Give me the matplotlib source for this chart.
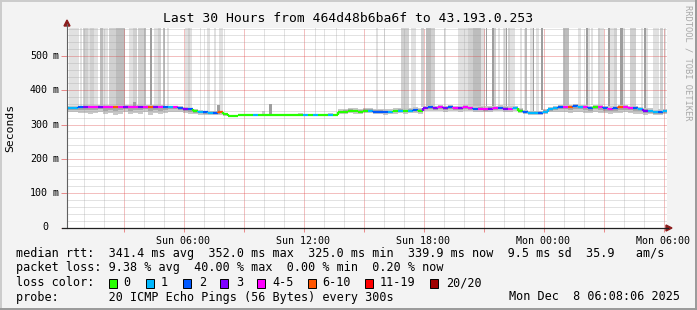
import numpy as np
import matplotlib
matplotlib.use("Agg")
import matplotlib.pyplot as plt
import matplotlib.transforms as mtransforms
from matplotlib.lines import Line2D
from matplotlib.patches import Rectangle, Polygon

# ---------------- data ----------------
title = "Last 30 Hours from 464d48b6ba6f to 43.193.0.253"
x_tick_hours = [6, 12, 18, 24, 30]
x_tick_labels = ["Sun 06:00", "Sun 12:00", "Sun 18:00", "Mon 00:00", "Mon 06:00"]
y_tick_values = [0, 100, 200, 300, 400, 500]
y_tick_numbers = ["0", "100", "200", "300", "400", "500"]
y_tick_units = ["", "m", "m", "m", "m", "m"]

start_hour = 0.2     # Sun 00:12
step_hours = 0.25    # one sample per 15 minutes

median_ms = [349, 349, 350, 351, 352, 352, 352, 352, 352, 352, 352, 352, 352, 352, 352, 352, 352, 351, 352, 351, 350, 351,
             349, 346, 344, 340, 338, 336, 333, 333, 337, 330,
             325, 325, 327, 327, 327, 327, 327, 327, 327, 327, 327, 327, 327, 327, 327, 327, 327, 327, 327, 327, 327, 327,
             336, 338, 340, 340, 338, 340, 340, 338, 338, 336, 336, 339, 340, 339, 340, 343, 340,
             349, 350, 348, 350, 348, 350, 348, 348, 350, 348, 346, 346, 346, 346, 348, 348, 346, 346, 348,
             340, 336, 333, 333, 334, 338, 345, 349, 351, 352, 351, 353, 352, 350, 349, 352, 350, 349, 346, 348,
             350, 350, 349, 348, 346, 341, 340, 336, 337, 340]

loss_code = [1, 1, 2, 3, 4, 4, 3, 4, 4, 5, 4, 3, 4, 4, 3, 4, 5, 3, 4, 2, 1, 4,
             2, 3, 2, 0, 1, 2, 1, 2, 5, 0,
             0, 0, 0, 0, 0, 1, 0, 0, 0, 0, 0, 0, 0, 0, 0, 1, 0, 1, 0, 0, 1, 0,
             0, 0, 0, 0, 0, 0, 1, 2, 2, 2, 1, 0, 1, 0, 1, 2, 0,
             3, 2, 3, 4, 3, 2, 4, 3, 4, 4, 2, 4, 4, 3, 4, 2, 3, 4, 1,
             0, 2, 1, 1, 2, 1, 1, 1, 2, 4, 5, 2, 1, 4, 2, 0, 4, 2, 4, 2,
             5, 4, 4, 2, 1, 3, 1, 1, 2, 1]

smoke_lo_ms = [338, 336, 333, 335, 331, 334, 337, 330, 333, 329, 332, 336, 330, 334, 331, 336, 328, 333, 330, 335, 338, 337,
               338, 334, 332, 330, 329, 328, 327, 327, 328, 326,
               324, 324, 326, 326, 326, 326, 326, 326, 326, 326, 326, 326, 326, 326, 326, 326, 326, 326, 326, 326, 326, 326,
               330, 331, 333, 332, 330, 333, 334, 331, 330, 329, 330, 332, 333, 332, 333, 335, 332,
               340, 341, 339, 340, 338, 341, 339, 338, 340, 339, 337, 338, 336, 338, 339, 340, 337, 338, 340,
               334, 330, 328, 328, 329, 331, 336, 338, 337, 336, 334, 338, 337, 335, 333, 337, 334, 333, 331, 333,
               335, 336, 334, 332, 331, 329, 330, 328, 327, 330]

smoke_hi_ms = [354, 354, 355, 356, 356, 357, 356, 356, 357, 356, 356, 357, 356, 356, 356, 357, 357, 356, 357, 355, 355, 355,
               353, 351, 349, 345, 343, 341, 339, 339, 341, 335,
               326, 326, 328, 328, 328, 328, 328, 328, 328, 328, 328, 328, 328, 328, 333, 328, 328, 328, 328, 328, 333, 328,
               344, 346, 348, 347, 346, 349, 348, 346, 345, 344, 345, 347, 348, 347, 349, 350, 348,
               355, 356, 354, 356, 354, 356, 355, 354, 356, 355, 353, 354, 353, 354, 355, 356, 354, 353, 355,
               348, 342, 339, 339, 340, 346, 351, 354, 356, 358, 357, 359, 357, 356, 355, 358, 357, 355, 353, 354,
               356, 357, 355, 354, 352, 348, 347, 343, 344, 346]

# single slow ping rounds (hour, top of the spike in ms, shade)
short_spike_h = [3.5, 7.7, 9.95, 10.3]
short_spike_top_ms = [366, 358, 340, 360]
short_spike_level = [4, 4, 2, 4]

# periods where part of the pings went far above the graph (hours after Sun 00:00)
spike_start_h = [0.25, 0.80, 0.95, 1.20, 1.30, 1.50, 1.80, 1.95, 2.25, 2.60, 3.25, 3.45, 3.70, 4.00, 4.30, 4.50,
                 4.70, 4.95, 5.15, 6.05, 6.20, 6.30, 6.80, 7.15, 7.50, 7.75, 9.55, 12.55, 13.60,
                 15.60, 16.00, 16.85, 17.35, 17.85, 18.10, 18.35, 19.00, 19.70, 20.20, 20.45, 20.85, 21.10,
                 21.40, 21.50, 21.70, 21.95, 22.10, 22.20, 22.30, 22.80, 23.05, 23.30, 23.45, 23.60, 23.85,
                 24.95, 25.70, 26.10, 26.20, 26.35, 26.70, 26.80, 27.20, 27.30, 27.50, 27.80, 27.95, 28.30,
                 28.85, 29.00, 29.10, 29.45, 29.80, 30.00]
spike_end_h = [0.75, 0.90, 1.20, 1.30, 1.50, 1.70, 1.95, 2.20, 2.60, 3.05, 3.45, 3.65, 4.00, 4.10, 4.40, 4.70,
               4.85, 5.05, 5.25, 6.20, 6.30, 6.40, 6.85, 7.30, 7.60, 7.95, 9.60, 12.60, 13.65,
               15.70, 16.05, 17.25, 17.60, 18.00, 18.35, 18.55, 19.10, 20.20, 20.45, 20.85, 21.05, 21.20,
               21.50, 21.60, 21.80, 22.10, 22.20, 22.30, 22.55, 22.90, 23.15, 23.45, 23.50, 23.75, 23.95,
               25.25, 25.85, 26.20, 26.30, 26.45, 26.80, 27.00, 27.30, 27.50, 27.65, 27.95, 28.05, 28.60,
               28.95, 29.10, 29.20, 29.75, 29.95, 30.10]
spike_level = [1, 1, 2, 1, 2, 1, 3, 1, 2, 3, 1, 2, 2, 3, 4, 1,
               2, 3, 1, 1, 2, 1, 1, 1, 1, 1, 1, 1, 1,
               1, 1, 2, 1, 2, 3, 2, 1, 1, 2, 3, 1, 4,
               4, 2, 1, 1, 4, 2, 1, 1, 3, 1, 4, 1, 4,
               3, 1, 4, 1, 1, 2, 1, 4, 1, 2, 4, 1, 2,
               1, 4, 1, 1, 2, 1]

loss_labels = ["0", "1", "2", "3", "4-5", "6-10", "11-19", "20/20"]
loss_colors = ["#26ff00", "#00b8ff", "#0059ff", "#7e00ff", "#ff00ff", "#ff5500", "#ff0000", "#a00000"]

rtt_avg, rtt_max, rtt_min, rtt_now, rtt_sd, rtt_ams = 341.4, 352.0, 325.0, 339.9, 9.5, 35.9
loss_avg, loss_max, loss_min, loss_now = 9.38, 40.00, 0.00, 0.20
probe_text = "20 ICMP Echo Pings (56 Bytes) every 300s"
stamp_text = "Mon Dec  8 06:08:06 2025"

# ---------------- drawing ----------------
MONO = "DejaVu Sans Mono"
plt.rcParams["font.family"] = [MONO, "DejaVu Sans"]

W, H = 697, 310
YTOP = 583
def fx(x):
    return x / W
def fy(y):
    return 1 - y / H

fig = plt.figure(figsize=(W / 100, H / 100), dpi=100, facecolor="#f3f3f3")
ax = fig.add_axes([fx(67), 82 / H, 600 / W, 200 / H])
ax.set_facecolor("white")
# half-pixel offsets so the 1px grid lines fall on pixel centres
xpx = 30 / 600
ypx = YTOP / 200
ax.set_xlim(start_hour - 0.5 * xpx, start_hour + 30 - 0.5 * xpx)
ax.set_ylim(-0.5 * ypx, YTOP - 0.5 * ypx)
for s in ax.spines.values():
    s.set_visible(False)

med = np.array(median_ms, dtype=float)
lo = np.array(smoke_lo_ms, dtype=float)
hi = np.array(smoke_hi_ms, dtype=float)
t0 = start_hour + step_hours * np.arange(len(med))
tmid = t0 + step_hours / 2

# tall smoke bars
shade = {1: "#e1e1e1", 2: "#d0d0d0", 3: "#bdbdbd", 4: "#9e9e9e"}
for s, e, l in zip(spike_start_h, spike_end_h, spike_level):
    b = np.interp((s + e) / 2, tmid, hi)
    ax.bar(s, YTOP - b, width=e - s, bottom=b, align="edge", color=shade[l],
           linewidth=0, zorder=1, antialiased=False)

# smoke around the median
ax.bar(t0, hi - lo, width=step_hours, bottom=lo, align="edge", color="#c8c8c8",
       linewidth=0, zorder=1.5, antialiased=False)
ilo = (lo + med) / 2
ihi = (med + hi) / 2
ax.bar(t0, ihi - ilo, width=step_hours, bottom=ilo, align="edge", color="#a6a6a6",
       linewidth=0, zorder=1.6, antialiased=False)

# single slow rounds
for h, top, l in zip(short_spike_h, short_spike_top_ms, short_spike_level):
    ax.vlines(h, np.interp(h, tmid, med), top, colors=shade[l], linewidth=0.9,
              zorder=1.7, antialiased=False)

# grid
major_x = np.arange(3, 31, 3)
minor_x = [h for h in range(1, 31) if h % 3]
lab_map = dict(zip(x_tick_hours, x_tick_labels))
ax.set_xticks(major_x)
ax.set_xticklabels([lab_map.get(int(h), "") for h in major_x])
ax.set_xticks(minor_x, minor=True)
ax.set_yticks(y_tick_values)
ax.set_yticklabels([])
ax.set_yticks([v for v in range(20, YTOP, 20) if v % 100], minor=True)
ax.set_axisbelow(False)
ax.grid(which="major", color="#dc3c3c", alpha=0.65, linewidth=0.72, linestyle=(0, (1, 1)))
ax.grid(which="minor", color="#a0a0a0", alpha=0.6, linewidth=0.72, linestyle=(0, (1, 1)))
ax.tick_params(axis="x", which="major", length=3, width=0.72, color="#e88a8a",
               pad=3, labelsize=7.2)
ax.tick_params(axis="x", which="minor", length=0)
ax.tick_params(axis="y", which="major", length=4, width=0.72, color="#e88a8a")
ax.tick_params(axis="y", which="minor", length=0)

# median line coloured by loss
cols = [loss_colors[c] for c in loss_code]
ax.hlines(med, t0, t0 + step_hours, colors=cols, linewidth=1.6, zorder=4)
ax.vlines(t0[1:], np.minimum(med[:-1], med[1:]), np.maximum(med[:-1], med[1:]),
          colors=cols[1:], linewidth=1.6, zorder=4)

# y tick labels (number + unit)
ty = mtransforms.blended_transform_factory(fig.transFigure, ax.transData)
for v, num, unit in zip(y_tick_values, y_tick_numbers, y_tick_units):
    ax.text(fx(48), v, num, transform=ty, ha="right", va="center", fontsize=7.2)
    if unit:
        ax.text(fx(53), v, unit, transform=ty, ha="left", va="center", fontsize=7.2)

# axes lines and arrows
fig.add_artist(Line2D([fx(67), fx(67)], [fy(228), fy(24)], color="#606060", linewidth=0.8))
fig.add_artist(Line2D([fx(62), fx(668)], [fy(228), fy(228)], color="#202020", linewidth=0.9))
fig.add_artist(Polygon([(fx(64), fy(26)), (fx(70), fy(26)), (fx(67), fy(20))],
                       closed=True, color="#8b1c1c", transform=fig.transFigure))
fig.add_artist(Polygon([(fx(666), fy(225)), (fx(666), fy(231)), (fx(672), fy(228))],
                       closed=True, color="#8b1c1c", transform=fig.transFigure))

# titles
fig.text(fx(348), fy(19), title, ha="center", va="center", fontsize=9.4)
fig.text(fx(10), fy(128), "Seconds", rotation=90, ha="center", va="center", fontsize=8.2)
fig.text(fx(688), fy(5), "RRDTOOL / TOBI OETIKER", rotation=270, ha="center", va="top",
         fontsize=6.3, color="#a8a8a8")

# legend
FS = 8.5
line1 = (f"median rtt:  {rtt_avg:.1f} ms avg  {rtt_max:.1f} ms max  {rtt_min:.1f} ms min  "
         f"{rtt_now:.1f} ms now  {rtt_sd:.1f} ms sd  {rtt_ams:.1f}   am/s")
line2 = (f"packet loss: {loss_avg:.2f} % avg  {loss_max:.2f} % max  {loss_min:.2f} % min  "
         f"{loss_now:.2f} % now")
fig.text(fx(16), fy(254), line1, ha="left", va="center", fontsize=FS)
fig.text(fx(16), fy(268), line2, ha="left", va="center", fontsize=FS)
fig.text(fx(16), fy(283), "loss color:", ha="left", va="center", fontsize=FS)
box_x = [109, 146, 183, 220, 257, 308, 365, 430]
lab_x = [123, 161, 199, 236, 272, 322, 380, 446]
for bx, lx, lab, col in zip(box_x, lab_x, loss_labels, loss_colors):
    fig.add_artist(Rectangle((fx(bx), fy(287.5)), 8 / W, 9 / H, transform=fig.transFigure,
                             facecolor=col, edgecolor="black", linewidth=0.7))
    fig.text(fx(lx), fy(283), lab, ha="left", va="center", fontsize=FS)
fig.text(fx(16), fy(297), "probe:       " + probe_text, ha="left", va="center", fontsize=FS)
fig.text(fx(680), fy(297), stamp_text, ha="right", va="center", fontsize=FS)

# image border
fig.add_artist(Line2D([0, 1], [fy(0.5), fy(0.5)], color="#cbcbcb", linewidth=1.4))
fig.add_artist(Line2D([fx(0.5), fx(0.5)], [0, 1], color="#cbcbcb", linewidth=1.4))
fig.add_artist(Line2D([0, 1], [fy(309), fy(309)], color="#999999", linewidth=1.4))
fig.add_artist(Line2D([fx(696), fx(696)], [0, 1], color="#999999", linewidth=1.4))

fig.savefig("out.png", dpi=100, facecolor=fig.get_facecolor())
